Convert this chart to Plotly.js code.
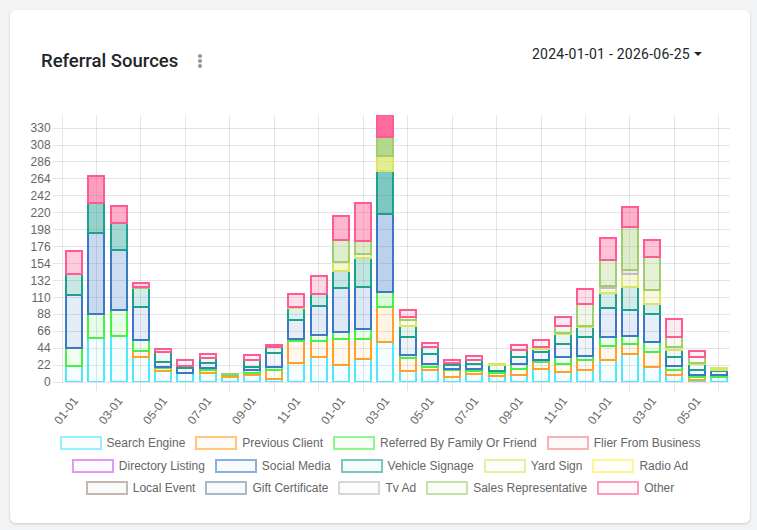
<!DOCTYPE html>
<html>
<head>
<meta charset="utf-8">
<script src="https://cdn.plot.ly/plotly-3.0.1.min.js"></script>
<style>
html,body{margin:0;padding:0;width:757px;height:530px;overflow:hidden;background:#f2f3f5;}
#card{position:absolute;left:10px;top:10px;width:740px;height:513px;background:#fff;border-radius:6px;box-shadow:0 1px 3px rgba(0,0,0,0.16);}
#title{position:absolute;left:41px;top:52px;font-family:Roboto,sans-serif;font-size:18.5px;line-height:18px;font-weight:500;color:#212529;white-space:nowrap;}
#dots{position:absolute;left:198px;top:54px;width:4px;}
#dots div{width:3.5px;height:3.5px;border-radius:50%;background:#9a9a9a;margin-bottom:1.5px;}
#range{position:absolute;left:532px;top:46px;font-family:Roboto,sans-serif;font-size:14px;line-height:16px;font-weight:400;letter-spacing:0.25px;color:#212529;white-space:nowrap;}
#caret{display:inline-block;margin-left:4px;width:0;height:0;border-left:4px solid transparent;border-right:4px solid transparent;border-top:4px solid #212529;vertical-align:3px;}
#chart{position:absolute;left:0;top:0;width:757px;height:530px;}
#legend{position:absolute;left:0;top:0;width:757px;height:530px;pointer-events:none;}
.lrow{position:absolute;left:0;width:760px;display:flex;justify-content:center;}
.litem{display:flex;align-items:center;margin:0 5px;}
.lbox{box-sizing:border-box;width:42px;height:14px;border:2px solid;margin-right:5px;}
.ltxt{font-family:"Liberation Sans",Arial,sans-serif;font-size:12px;color:#666;white-space:nowrap;}
</style>
</head>
<body>
<div id="card"></div>
<div id="title">Referral Sources</div>
<div id="dots"><div></div><div></div><div></div></div>
<div id="range">2024-01-01 - 2026-06-25<span id="caret"></span></div>
<div id="chart"></div>
<div id="legend"></div>
<script>
// ---------- data ----------
const months = ['2024-01-01','2024-02-01','2024-03-01','2024-04-01','2024-05-01','2024-06-01',
  '2024-07-01','2024-08-01','2024-09-01','2024-10-01','2024-11-01','2024-12-01',
  '2025-01-01','2025-02-01','2025-03-01','2025-04-01','2025-05-01','2025-06-01',
  '2025-07-01','2025-08-01','2025-09-01','2025-10-01','2025-11-01','2025-12-01',
  '2026-01-01','2026-02-01','2026-03-01','2026-04-01','2026-05-01','2026-06-01'];

const seriesNames = ['Search Engine','Previous Client','Referred By Family Or Friend','Flier From Business',
  'Directory Listing','Social Media','Vehicle Signage','Yard Sign','Radio Ad',
  'Local Event','Gift Certificate','Tv Ad','Sales Representative','Other'];

const searchEngine      = [21,57,60,32,14,12,12,7,9,4,25,33,22,30,52,14,16,6,10,8,9,17,13,15,29,37,20,9,3,7];
const previousClient    = [0,0,0,8,4,0,3,2,3,12,28,20,34,26,46,17,3,9,4,4,8,9,11,13,18,13,19,7,4,0];
const referredFamily    = [23,31,33,15,2,0,3,1,3,3,3,8,9,13,19,4,4,2,3,2,6,2,9,6,12,10,13,5,2,2];
const flierFromBusiness = [0,0,0,0,0,0,0,0,0,0,0,0,0,0,0,0,0,0,0,0,0,0,0,0,0,0,0,0,0,0];
const directoryListing  = [0,0,0,0,0,0,0,0,0,0,0,0,0,0,0,0,0,0,0,0,0,0,0,0,0,0,0,0,0,0];
const socialMedia       = [69,106,78,43,6,6,7,0,5,19,24,38,57,55,101,24,13,5,7,0,10,11,16,25,37,34,37,12,6,5];
const vehicleSignage    = [28,39,36,24,13,3,6,0,8,7,16,16,22,37,56,14,9,3,4,8,9,4,13,12,20,29,13,9,8,2];
const yardSign          = [0,0,0,0,0,0,0,0,0,0,2,0,12,5,20,7,1,0,0,2,0,3,2,2,6,17,18,4,2,2];
const radioAd           = [0,0,0,0,0,0,0,0,0,0,0,0,0,0,0,0,0,0,0,0,0,0,0,0,0,0,0,0,0,0];
const localEvent        = [0,0,0,0,0,0,0,0,0,0,0,0,0,0,0,0,0,0,0,0,0,0,0,0,0,0,0,0,0,0];
const giftCertificate   = [0,0,0,0,0,0,0,0,0,0,0,0,0,0,0,0,0,0,0,0,0,0,0,0,0,0,0,0,0,0];
const tvAd              = [0,0,0,0,0,0,0,0,0,0,0,0,0,0,0,0,0,0,0,0,0,0,0,0,3,5,0,0,0,0];
const salesRep          = [0,0,0,1,0,0,0,1,0,0,0,0,29,17,25,5,0,0,0,0,0,0,9,28,34,56,43,13,7,0];
const other             = [29,35,22,6,4,7,5,0,7,3,16,23,31,49,28,8,5,4,6,0,6,8,11,20,28,26,22,23,8,0];

const seriesValues = [searchEngine,previousClient,referredFamily,flierFromBusiness,directoryListing,
  socialMedia,vehicleSignage,yardSign,radioAd,localEvent,giftCertificate,tvAd,salesRep,other];

// ---------- styles ----------
const baseColors = [[80,232,255],[255,160,40],[70,240,70],[240,128,128],[200,90,240],[60,120,200],
  [30,160,145],[215,230,100],[255,235,80],[160,135,125],[110,140,165],[190,190,190],[160,205,110],[255,90,145]];
const legendRows = [[0,1,2,3],[4,5,6,7,8],[9,10,11,12,13]];
const legendRowTops = [436,458.5,481];

const xIdx = months.map((m,i)=>i);
const totals = xIdx.map(i=>seriesValues.reduce((s,v)=>s+v[i],0));
const yMax = Math.max(...totals);

const cum = xIdx.map(()=>0);
const traces = seriesValues.map((vals,k)=>{
  const c = baseColors[k];
  const fills = vals.map((v,i)=>{
    const mid = cum[i] + v/2;
    const t = Math.min(1, mid / yMax);
    const a = 0.04 + 0.9*Math.pow(t,1.5);
    return `rgba(${c[0]},${c[1]},${c[2]},${a.toFixed(3)})`;
  });
  vals.forEach((v,i)=>{cum[i]+=v;});
  return {
    type:'bar', name:seriesNames[k], x:xIdx,
    y:vals.map(v=>v===0?null:v),
    marker:{color:fills, line:{color:`rgb(${c[0]},${c[1]},${c[2]})`, width:2}},
    hoverinfo:'skip', showlegend:false
  };
});

const gridC = 'rgba(0,0,0,0.1)';
const labelIdx = xIdx.filter(i=>i%2===0);
const gridIdx = xIdx.filter(i=>i%2===1);

const layout = {
  width:757, height:530,
  margin:{l:63.4, r:26.5, t:115, b:148.3, pad:0},
  paper_bgcolor:'rgba(0,0,0,0)', plot_bgcolor:'rgba(0,0,0,0)',
  barmode:'stack', bargap:0.28,
  font:{family:'"Liberation Sans", Arial, sans-serif', size:12, color:'#666'},
  xaxis:{
    range:[-0.5, months.length-0.5], tickmode:'array', tickvals:labelIdx,
    ticktext:labelIdx.map(i=>months[i].slice(5)), tickangle:-52,
    showgrid:false, zeroline:false, showline:true, linecolor:gridC, linewidth:1,
    ticks:'outside', ticklen:6, tickcolor:'rgba(0,0,0,0)',
    minor:{tickmode:'array', tickvals:gridIdx, showgrid:true, gridcolor:gridC, gridwidth:1,
           ticks:'outside', ticklen:8, tickcolor:gridC, tickwidth:1},
    fixedrange:true
  },
  yaxis:{
    range:[0, yMax], tick0:0, dtick:22, tickmode:'linear',
    showgrid:true, gridcolor:gridC, gridwidth:1, zeroline:false,
    showline:true, linecolor:gridC, linewidth:1,
    ticks:'outside', ticklen:9, tickcolor:gridC,
    fixedrange:true
  }
};

Plotly.newPlot('chart', traces, layout, {displayModeBar:false, staticPlot:true});

// ---------- legend ----------
const leg = document.getElementById('legend');
legendRows.forEach((row,r)=>{
  const div = document.createElement('div');
  div.className='lrow';
  div.style.top = legendRowTops[r]+'px';
  row.forEach(k=>{
    const c = baseColors[k];
    const lc = c.map(v=>Math.round(v+(255-v)*0.4));
    const it = document.createElement('div'); it.className='litem';
    const b = document.createElement('div'); b.className='lbox';
    b.style.borderColor = `rgb(${lc[0]},${lc[1]},${lc[2]})`;
    b.style.background = `rgba(${c[0]},${c[1]},${c[2]},0.04)`;
    const t = document.createElement('span'); t.className='ltxt'; t.textContent = seriesNames[k];
    it.appendChild(b); it.appendChild(t); div.appendChild(it);
  });
  leg.appendChild(div);
});
</script>
</body>
</html>
